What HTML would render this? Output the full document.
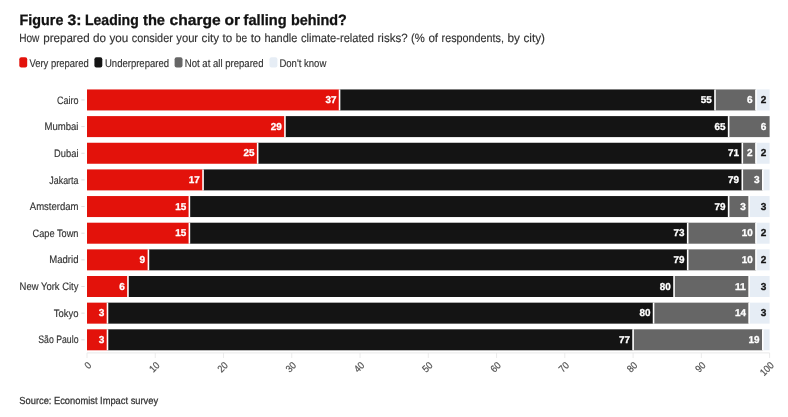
<!DOCTYPE html>
<html lang="en"><head><meta charset="utf-8"><title>Figure 3: Leading the charge or falling behind?</title>
<style>
html,body{margin:0;padding:0;background:#fff}
body{width:788px;height:417px;overflow:hidden;font-family:"Liberation Sans",sans-serif}
svg{display:block;filter:blur(.4px)}
text{font-family:"Liberation Sans",sans-serif;text-rendering:geometricPrecision}
.t{font-weight:700;font-size:15px;fill:#121212;stroke:#121212;stroke-width:.3px}
.s{font-size:12px;fill:#333;stroke:#333;stroke-width:.15px}
.l{font-size:11px;fill:#333;stroke:#333;stroke-width:.15px}
.c{font-size:10.8px;fill:#333;stroke:#333;stroke-width:.15px}
.v{font-size:10.0px;font-weight:700;fill:#fff;text-anchor:end;stroke:#fff;stroke-width:.3px}
.vd{fill:#121212;stroke:#121212}
.a{font-size:10px;fill:#505050;stroke:#505050;stroke-width:.2px;text-anchor:end}
.src{font-size:10.2px;fill:#333;stroke:#333;stroke-width:.25px}
</style></head><body>
<svg width="788" height="417" viewBox="0 0 788 417">
<rect width="788" height="417" fill="#fff"/>
<text class="t" y="24.5"><tspan x="19.6" textLength="43.8" lengthAdjust="spacingAndGlyphs">Figure</tspan> <tspan x="67.6" textLength="14.0" lengthAdjust="spacingAndGlyphs">3:</tspan> <tspan x="85.0" textLength="53.7" lengthAdjust="spacingAndGlyphs">Leading</tspan> <tspan x="143.0" textLength="22.0" lengthAdjust="spacingAndGlyphs">the</tspan> <tspan x="169.6" textLength="51.2" lengthAdjust="spacingAndGlyphs">charge</tspan> <tspan x="224.6" textLength="15.6" lengthAdjust="spacingAndGlyphs">or</tspan> <tspan x="243.6" textLength="43.0" lengthAdjust="spacingAndGlyphs">falling</tspan> <tspan x="291.0" textLength="55.9" lengthAdjust="spacingAndGlyphs">behind?</tspan></text>
<text class="s" y="41.5"><tspan x="19.2" textLength="20.2" lengthAdjust="spacingAndGlyphs">How</tspan> <tspan x="43.2" textLength="46.4" lengthAdjust="spacingAndGlyphs">prepared</tspan> <tspan x="92.9" textLength="13.0" lengthAdjust="spacingAndGlyphs">do</tspan> <tspan x="109.4" textLength="18.9" lengthAdjust="spacingAndGlyphs">you</tspan> <tspan x="131.8" textLength="41.0" lengthAdjust="spacingAndGlyphs">consider</tspan> <tspan x="176.3" textLength="21.8" lengthAdjust="spacingAndGlyphs">your</tspan> <tspan x="201.6" textLength="17.5" lengthAdjust="spacingAndGlyphs">city</tspan> <tspan x="222.6" textLength="9.7" lengthAdjust="spacingAndGlyphs">to</tspan> <tspan x="235.8" textLength="11.4" lengthAdjust="spacingAndGlyphs">be</tspan> <tspan x="250.7" textLength="10.2" lengthAdjust="spacingAndGlyphs">to</tspan> <tspan x="264.4" textLength="33.0" lengthAdjust="spacingAndGlyphs">handle</tspan> <tspan x="301.0" textLength="73.0" lengthAdjust="spacingAndGlyphs">climate-related</tspan> <tspan x="377.5" textLength="30.1" lengthAdjust="spacingAndGlyphs">risks?</tspan> <tspan x="411.1" textLength="13.8" lengthAdjust="spacingAndGlyphs">(%</tspan> <tspan x="428.4" textLength="9.7" lengthAdjust="spacingAndGlyphs">of</tspan> <tspan x="441.6" textLength="62.4" lengthAdjust="spacingAndGlyphs">respondents,</tspan> <tspan x="507.5" textLength="12.5" lengthAdjust="spacingAndGlyphs">by</tspan> <tspan x="523.5" textLength="21.5" lengthAdjust="spacingAndGlyphs">city)</tspan></text>
<rect x="19.3" y="57.2" width="7.9" height="10.4" rx="2" fill="#e3120b"/>
<text class="l" x="29.4" y="66.8" textLength="59.4" lengthAdjust="spacingAndGlyphs">Very prepared</text>
<rect x="94.4" y="57.2" width="7.9" height="10.4" rx="2" fill="#141414"/>
<text class="l" x="105.0" y="66.8" textLength="64.0" lengthAdjust="spacingAndGlyphs">Underprepared</text>
<rect x="174.6" y="57.2" width="7.9" height="10.4" rx="2" fill="#666666"/>
<text class="l" x="184.8" y="66.8" textLength="78.7" lengthAdjust="spacingAndGlyphs">Not at all prepared</text>
<rect x="269.5" y="57.2" width="7.9" height="10.4" rx="2" fill="#e6edf5"/>
<text class="l" x="279.4" y="66.8" textLength="46.9" lengthAdjust="spacingAndGlyphs">Don't know</text>
<line x1="87.00" y1="352.9" x2="87.00" y2="358" stroke="#ebebeb" stroke-width="1"/>
<line x1="155.26" y1="352.9" x2="155.26" y2="358" stroke="#ebebeb" stroke-width="1"/>
<line x1="223.52" y1="352.9" x2="223.52" y2="358" stroke="#ebebeb" stroke-width="1"/>
<line x1="291.78" y1="352.9" x2="291.78" y2="358" stroke="#ebebeb" stroke-width="1"/>
<line x1="360.04" y1="352.9" x2="360.04" y2="358" stroke="#ebebeb" stroke-width="1"/>
<line x1="428.30" y1="352.9" x2="428.30" y2="358" stroke="#ebebeb" stroke-width="1"/>
<line x1="496.56" y1="352.9" x2="496.56" y2="358" stroke="#ebebeb" stroke-width="1"/>
<line x1="564.82" y1="352.9" x2="564.82" y2="358" stroke="#ebebeb" stroke-width="1"/>
<line x1="633.08" y1="352.9" x2="633.08" y2="358" stroke="#ebebeb" stroke-width="1"/>
<line x1="701.34" y1="352.9" x2="701.34" y2="358" stroke="#ebebeb" stroke-width="1"/>
<line x1="769.60" y1="352.9" x2="769.60" y2="358" stroke="#ebebeb" stroke-width="1"/>
<line x1="87.0" y1="352.9" x2="769.6" y2="352.9" stroke="#e9e9e9" stroke-width="1"/>
<line x1="81.3" y1="99.95" x2="84.6" y2="99.95" stroke="#dedede" stroke-width="1"/>
<text class="c" x="57.0" y="103.5" textLength="21.5" lengthAdjust="spacingAndGlyphs">Cairo</text>
<rect x="87.00" y="89.45" width="252.56" height="21.0" fill="#e3120b"/>
<rect x="339.56" y="89.45" width="375.43" height="21.0" fill="#141414"/>
<rect x="714.99" y="89.45" width="40.96" height="21.0" fill="#666666"/>
<rect x="755.95" y="89.45" width="13.65" height="21.0" fill="#e6edf5"/>
<text class="v" x="336.4" y="103.2" textLength="11.0" lengthAdjust="spacingAndGlyphs">37</text>
<line x1="339.56" y1="89.45" x2="339.56" y2="110.45" stroke="#fff" stroke-width="1.6"/>
<text class="v" x="711.8" y="103.2" textLength="11.0" lengthAdjust="spacingAndGlyphs">55</text>
<line x1="714.99" y1="89.45" x2="714.99" y2="110.45" stroke="#fff" stroke-width="1.6"/>
<text class="v" x="752.7" y="103.2" textLength="5.6" lengthAdjust="spacingAndGlyphs">6</text>
<line x1="755.95" y1="89.45" x2="755.95" y2="110.45" stroke="#fff" stroke-width="1.6"/>
<text class="v vd" x="766.4" y="103.2" textLength="5.6" lengthAdjust="spacingAndGlyphs">2</text>
<line x1="81.3" y1="126.60" x2="84.6" y2="126.60" stroke="#dedede" stroke-width="1"/>
<text class="c" x="44.5" y="130.2" textLength="34.0" lengthAdjust="spacingAndGlyphs">Mumbai</text>
<rect x="87.00" y="116.10" width="197.95" height="21.0" fill="#e3120b"/>
<rect x="284.95" y="116.10" width="443.69" height="21.0" fill="#141414"/>
<rect x="728.64" y="116.10" width="40.96" height="21.0" fill="#666666"/>
<text class="v" x="281.8" y="129.8" textLength="11.0" lengthAdjust="spacingAndGlyphs">29</text>
<line x1="284.95" y1="116.10" x2="284.95" y2="137.10" stroke="#fff" stroke-width="1.6"/>
<text class="v" x="725.4" y="129.8" textLength="11.0" lengthAdjust="spacingAndGlyphs">65</text>
<line x1="728.64" y1="116.10" x2="728.64" y2="137.10" stroke="#fff" stroke-width="1.6"/>
<text class="v" x="766.4" y="129.8" textLength="5.6" lengthAdjust="spacingAndGlyphs">6</text>
<line x1="81.3" y1="153.25" x2="84.6" y2="153.25" stroke="#dedede" stroke-width="1"/>
<text class="c" x="54.1" y="156.8" textLength="24.4" lengthAdjust="spacingAndGlyphs">Dubai</text>
<rect x="87.00" y="142.75" width="170.65" height="21.0" fill="#e3120b"/>
<rect x="257.65" y="142.75" width="484.65" height="21.0" fill="#141414"/>
<rect x="742.30" y="142.75" width="13.65" height="21.0" fill="#666666"/>
<rect x="755.95" y="142.75" width="13.65" height="21.0" fill="#e6edf5"/>
<text class="v" x="254.4" y="156.4" textLength="11.0" lengthAdjust="spacingAndGlyphs">25</text>
<line x1="257.65" y1="142.75" x2="257.65" y2="163.75" stroke="#fff" stroke-width="1.6"/>
<text class="v" x="739.1" y="156.4" textLength="11.0" lengthAdjust="spacingAndGlyphs">71</text>
<line x1="742.30" y1="142.75" x2="742.30" y2="163.75" stroke="#fff" stroke-width="1.6"/>
<text class="v" x="752.7" y="156.4" textLength="5.6" lengthAdjust="spacingAndGlyphs">2</text>
<line x1="755.95" y1="142.75" x2="755.95" y2="163.75" stroke="#fff" stroke-width="1.6"/>
<text class="v vd" x="766.4" y="156.4" textLength="5.6" lengthAdjust="spacingAndGlyphs">2</text>
<line x1="81.3" y1="179.90" x2="84.6" y2="179.90" stroke="#dedede" stroke-width="1"/>
<text class="c" x="49.3" y="183.5" textLength="29.2" lengthAdjust="spacingAndGlyphs">Jakarta</text>
<rect x="87.00" y="169.40" width="116.04" height="21.0" fill="#e3120b"/>
<rect x="203.04" y="169.40" width="539.25" height="21.0" fill="#141414"/>
<rect x="742.30" y="169.40" width="20.48" height="21.0" fill="#666666"/>
<rect x="762.77" y="169.40" width="6.83" height="21.0" fill="#e6edf5"/>
<text class="v" x="199.8" y="183.1" textLength="11.0" lengthAdjust="spacingAndGlyphs">17</text>
<line x1="203.04" y1="169.40" x2="203.04" y2="190.40" stroke="#fff" stroke-width="1.6"/>
<text class="v" x="739.1" y="183.1" textLength="11.0" lengthAdjust="spacingAndGlyphs">79</text>
<line x1="742.30" y1="169.40" x2="742.30" y2="190.40" stroke="#fff" stroke-width="1.6"/>
<text class="v" x="759.6" y="183.1" textLength="5.6" lengthAdjust="spacingAndGlyphs">3</text>
<line x1="762.77" y1="169.40" x2="762.77" y2="190.40" stroke="#fff" stroke-width="1.6"/>
<line x1="81.3" y1="206.55" x2="84.6" y2="206.55" stroke="#dedede" stroke-width="1"/>
<text class="c" x="29.8" y="210.2" textLength="48.7" lengthAdjust="spacingAndGlyphs">Amsterdam</text>
<rect x="87.00" y="196.05" width="102.39" height="21.0" fill="#e3120b"/>
<rect x="189.39" y="196.05" width="539.25" height="21.0" fill="#141414"/>
<rect x="728.64" y="196.05" width="20.48" height="21.0" fill="#666666"/>
<rect x="749.12" y="196.05" width="20.48" height="21.0" fill="#e6edf5"/>
<text class="v" x="186.2" y="209.8" textLength="11.0" lengthAdjust="spacingAndGlyphs">15</text>
<line x1="189.39" y1="196.05" x2="189.39" y2="217.05" stroke="#fff" stroke-width="1.6"/>
<text class="v" x="725.4" y="209.8" textLength="11.0" lengthAdjust="spacingAndGlyphs">79</text>
<line x1="728.64" y1="196.05" x2="728.64" y2="217.05" stroke="#fff" stroke-width="1.6"/>
<text class="v" x="745.9" y="209.8" textLength="5.6" lengthAdjust="spacingAndGlyphs">3</text>
<line x1="749.12" y1="196.05" x2="749.12" y2="217.05" stroke="#fff" stroke-width="1.6"/>
<text class="v vd" x="766.4" y="209.8" textLength="5.6" lengthAdjust="spacingAndGlyphs">3</text>
<line x1="81.3" y1="233.20" x2="84.6" y2="233.20" stroke="#dedede" stroke-width="1"/>
<text class="c" x="32.6" y="236.8" textLength="45.9" lengthAdjust="spacingAndGlyphs">Cape Town</text>
<rect x="87.00" y="222.70" width="102.39" height="21.0" fill="#e3120b"/>
<rect x="189.39" y="222.70" width="498.30" height="21.0" fill="#141414"/>
<rect x="687.69" y="222.70" width="68.26" height="21.0" fill="#666666"/>
<rect x="755.95" y="222.70" width="13.65" height="21.0" fill="#e6edf5"/>
<text class="v" x="186.2" y="236.4" textLength="11.0" lengthAdjust="spacingAndGlyphs">15</text>
<line x1="189.39" y1="222.70" x2="189.39" y2="243.70" stroke="#fff" stroke-width="1.6"/>
<text class="v" x="684.5" y="236.4" textLength="11.0" lengthAdjust="spacingAndGlyphs">73</text>
<line x1="687.69" y1="222.70" x2="687.69" y2="243.70" stroke="#fff" stroke-width="1.6"/>
<text class="v" x="752.7" y="236.4" textLength="11.0" lengthAdjust="spacingAndGlyphs">10</text>
<line x1="755.95" y1="222.70" x2="755.95" y2="243.70" stroke="#fff" stroke-width="1.6"/>
<text class="v vd" x="766.4" y="236.4" textLength="5.6" lengthAdjust="spacingAndGlyphs">2</text>
<line x1="81.3" y1="259.85" x2="84.6" y2="259.85" stroke="#dedede" stroke-width="1"/>
<text class="c" x="49.3" y="263.4" textLength="29.2" lengthAdjust="spacingAndGlyphs">Madrid</text>
<rect x="87.00" y="249.35" width="61.43" height="21.0" fill="#e3120b"/>
<rect x="148.43" y="249.35" width="539.25" height="21.0" fill="#141414"/>
<rect x="687.69" y="249.35" width="68.26" height="21.0" fill="#666666"/>
<rect x="755.95" y="249.35" width="13.65" height="21.0" fill="#e6edf5"/>
<text class="v" x="145.2" y="263.0" textLength="5.6" lengthAdjust="spacingAndGlyphs">9</text>
<line x1="148.43" y1="249.35" x2="148.43" y2="270.35" stroke="#fff" stroke-width="1.6"/>
<text class="v" x="684.5" y="263.0" textLength="11.0" lengthAdjust="spacingAndGlyphs">79</text>
<line x1="687.69" y1="249.35" x2="687.69" y2="270.35" stroke="#fff" stroke-width="1.6"/>
<text class="v" x="752.7" y="263.0" textLength="11.0" lengthAdjust="spacingAndGlyphs">10</text>
<line x1="755.95" y1="249.35" x2="755.95" y2="270.35" stroke="#fff" stroke-width="1.6"/>
<text class="v vd" x="766.4" y="263.0" textLength="5.6" lengthAdjust="spacingAndGlyphs">2</text>
<line x1="81.3" y1="286.50" x2="84.6" y2="286.50" stroke="#dedede" stroke-width="1"/>
<text class="c" x="19.6" y="290.1" textLength="58.9" lengthAdjust="spacingAndGlyphs">New York City</text>
<rect x="87.00" y="276.00" width="40.96" height="21.0" fill="#e3120b"/>
<rect x="127.96" y="276.00" width="546.08" height="21.0" fill="#141414"/>
<rect x="674.04" y="276.00" width="75.09" height="21.0" fill="#666666"/>
<rect x="749.12" y="276.00" width="20.48" height="21.0" fill="#e6edf5"/>
<text class="v" x="124.8" y="289.7" textLength="5.6" lengthAdjust="spacingAndGlyphs">6</text>
<line x1="127.96" y1="276.00" x2="127.96" y2="297.00" stroke="#fff" stroke-width="1.6"/>
<text class="v" x="670.8" y="289.7" textLength="11.0" lengthAdjust="spacingAndGlyphs">80</text>
<line x1="674.04" y1="276.00" x2="674.04" y2="297.00" stroke="#fff" stroke-width="1.6"/>
<text class="v" x="745.9" y="289.7" textLength="11.0" lengthAdjust="spacingAndGlyphs">11</text>
<line x1="749.12" y1="276.00" x2="749.12" y2="297.00" stroke="#fff" stroke-width="1.6"/>
<text class="v vd" x="766.4" y="289.7" textLength="5.6" lengthAdjust="spacingAndGlyphs">3</text>
<line x1="81.3" y1="313.15" x2="84.6" y2="313.15" stroke="#dedede" stroke-width="1"/>
<text class="c" x="53.8" y="316.8" textLength="24.7" lengthAdjust="spacingAndGlyphs">Tokyo</text>
<rect x="87.00" y="302.65" width="20.48" height="21.0" fill="#e3120b"/>
<rect x="107.48" y="302.65" width="546.08" height="21.0" fill="#141414"/>
<rect x="653.56" y="302.65" width="95.56" height="21.0" fill="#666666"/>
<rect x="749.12" y="302.65" width="20.48" height="21.0" fill="#e6edf5"/>
<text class="v" x="104.3" y="316.3" textLength="5.6" lengthAdjust="spacingAndGlyphs">3</text>
<line x1="107.48" y1="302.65" x2="107.48" y2="323.65" stroke="#fff" stroke-width="1.6"/>
<text class="v" x="650.4" y="316.3" textLength="11.0" lengthAdjust="spacingAndGlyphs">80</text>
<line x1="653.56" y1="302.65" x2="653.56" y2="323.65" stroke="#fff" stroke-width="1.6"/>
<text class="v" x="745.9" y="316.3" textLength="11.0" lengthAdjust="spacingAndGlyphs">14</text>
<line x1="749.12" y1="302.65" x2="749.12" y2="323.65" stroke="#fff" stroke-width="1.6"/>
<text class="v vd" x="766.4" y="316.3" textLength="5.6" lengthAdjust="spacingAndGlyphs">3</text>
<line x1="81.3" y1="339.80" x2="84.6" y2="339.80" stroke="#dedede" stroke-width="1"/>
<text class="c" x="38.3" y="343.4" textLength="40.2" lengthAdjust="spacingAndGlyphs">São Paulo</text>
<rect x="87.00" y="329.30" width="20.48" height="21.0" fill="#e3120b"/>
<rect x="107.48" y="329.30" width="525.60" height="21.0" fill="#141414"/>
<rect x="633.08" y="329.30" width="129.69" height="21.0" fill="#666666"/>
<rect x="762.77" y="329.30" width="6.83" height="21.0" fill="#e6edf5"/>
<text class="v" x="104.3" y="343.0" textLength="5.6" lengthAdjust="spacingAndGlyphs">3</text>
<line x1="107.48" y1="329.30" x2="107.48" y2="350.30" stroke="#fff" stroke-width="1.6"/>
<text class="v" x="629.9" y="343.0" textLength="11.0" lengthAdjust="spacingAndGlyphs">77</text>
<line x1="633.08" y1="329.30" x2="633.08" y2="350.30" stroke="#fff" stroke-width="1.6"/>
<text class="v" x="759.6" y="343.0" textLength="11.0" lengthAdjust="spacingAndGlyphs">19</text>
<line x1="762.77" y1="329.30" x2="762.77" y2="350.30" stroke="#fff" stroke-width="1.6"/>
<text class="a" transform="translate(92.0,366.0) rotate(-45)" textLength="5.0" lengthAdjust="spacingAndGlyphs">0</text>
<text class="a" transform="translate(160.3,366.0) rotate(-45)" textLength="10.0" lengthAdjust="spacingAndGlyphs">10</text>
<text class="a" transform="translate(228.5,366.0) rotate(-45)" textLength="10.0" lengthAdjust="spacingAndGlyphs">20</text>
<text class="a" transform="translate(296.8,366.0) rotate(-45)" textLength="10.0" lengthAdjust="spacingAndGlyphs">30</text>
<text class="a" transform="translate(365.0,366.0) rotate(-45)" textLength="10.0" lengthAdjust="spacingAndGlyphs">40</text>
<text class="a" transform="translate(433.3,366.0) rotate(-45)" textLength="10.0" lengthAdjust="spacingAndGlyphs">50</text>
<text class="a" transform="translate(501.6,366.0) rotate(-45)" textLength="10.0" lengthAdjust="spacingAndGlyphs">60</text>
<text class="a" transform="translate(569.8,366.0) rotate(-45)" textLength="10.0" lengthAdjust="spacingAndGlyphs">70</text>
<text class="a" transform="translate(638.1,366.0) rotate(-45)" textLength="10.0" lengthAdjust="spacingAndGlyphs">80</text>
<text class="a" transform="translate(706.3,366.0) rotate(-45)" textLength="10.0" lengthAdjust="spacingAndGlyphs">90</text>
<text class="a" transform="translate(774.6,366.0) rotate(-45)" textLength="15.0" lengthAdjust="spacingAndGlyphs">100</text>
<text class="src" x="19.3" y="403.8" textLength="138.8" lengthAdjust="spacingAndGlyphs">Source: Economist Impact survey</text>
</svg>
</body></html>
